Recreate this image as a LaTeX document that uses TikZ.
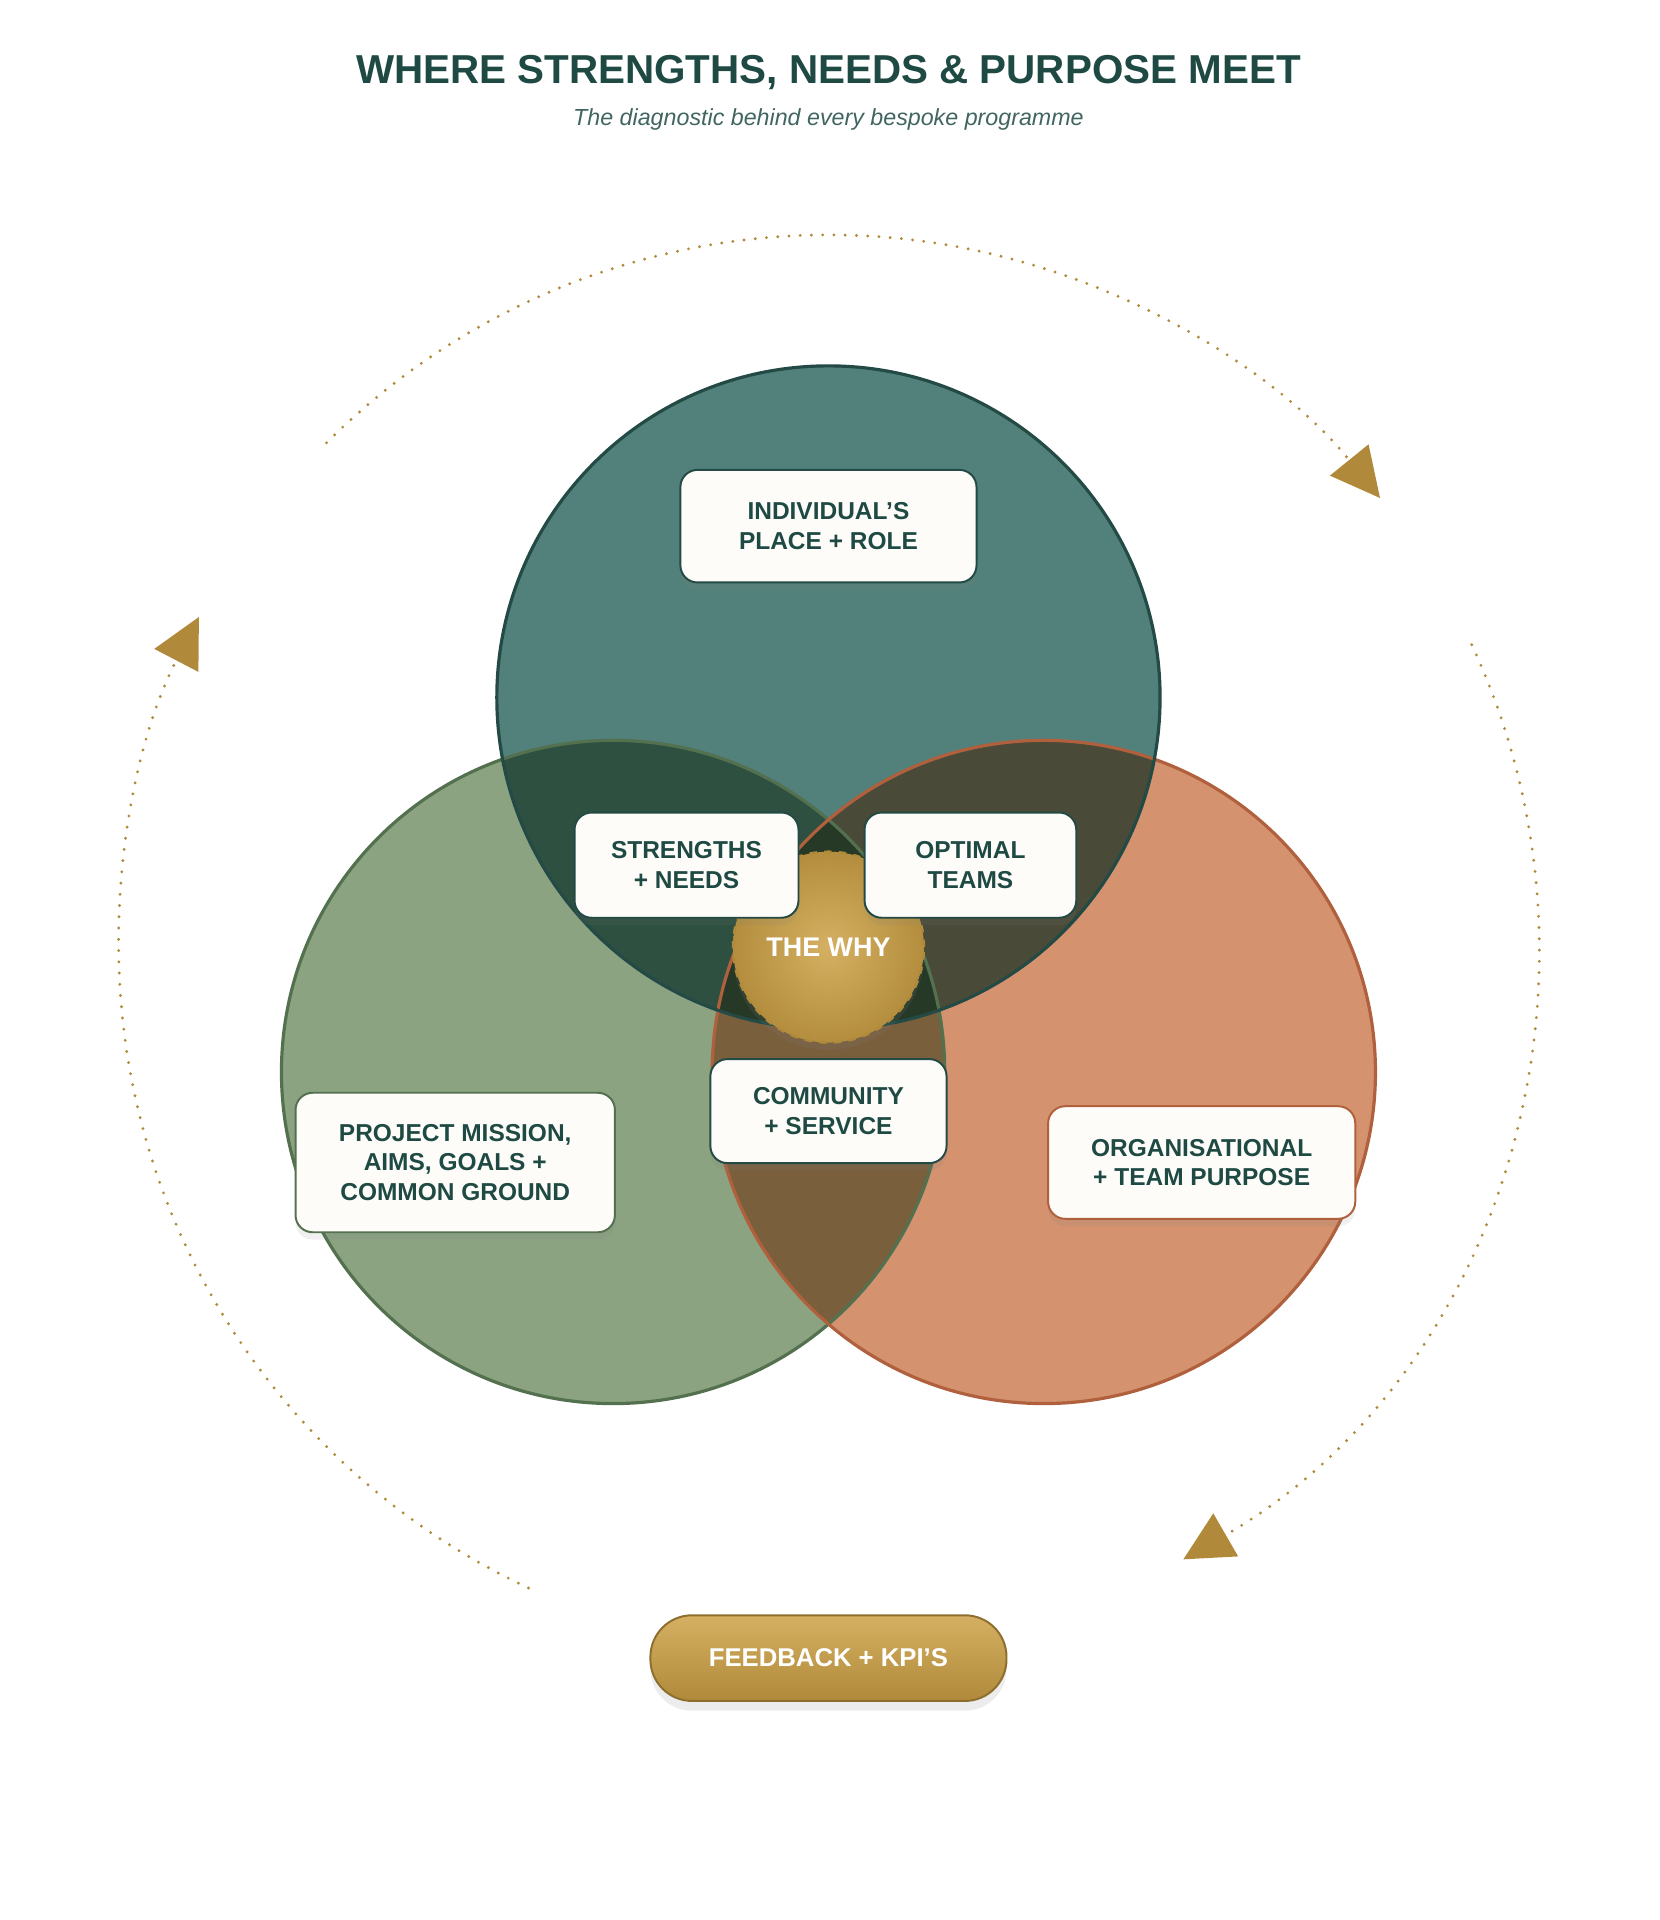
\documentclass[tikz,border=0pt]{standalone}
\usepackage{fontspec}
\setmainfont{Liberation Sans}
\usetikzlibrary{arrows.meta,shadows}
\definecolor{ink}{HTML}{1F4A44}
\definecolor{gold}{HTML}{B08A3A}
\definecolor{goldlt}{HTML}{D6B062}
\definecolor{topfill}{HTML}{52807A}
\definecolor{topline}{HTML}{234A45}
\definecolor{leftfill}{HTML}{8BA380}
\definecolor{leftline}{HTML}{53704F}
\definecolor{rightfill}{HTML}{D4926F}
\definecolor{rightline}{HTML}{B0603C}
\definecolor{paper}{HTML}{FDFCF8}
\definecolor{topleft}{HTML}{2D5040}
\definecolor{topright}{HTML}{4A4A38}
\definecolor{leftright}{HTML}{7A5F3C}
\definecolor{core}{HTML}{263826}
\tikzset{
  label box/.style={draw=topline,line width=0.8pt,fill=paper,rounded corners=7pt,
    align=center,text=ink,font=\bfseries\fontsize{10}{12}\selectfont,
    drop shadow={opacity=0.12,shadow xshift=0pt,shadow yshift=-3pt}},
  loop arc/.style={gold,line width=1.3pt,line cap=round,dash pattern=on 0pt off 4.6pt,
    -{Triangle[length=20pt,width=20pt,fill=gold]}}
}
\begin{document}
\begin{tikzpicture}[x=0.5pt,y=0.5pt]
\useasboundingbox (0,0) rectangle (1356,1569);
% title
\node[text=ink,font=\bfseries\fontsize{16.5}{18}\selectfont] (title) at (677,1510) {WHERE STRENGTHS, NEEDS \& PURPOSE MEET};
\node[text=ink!85,font=\itshape\fontsize{9.5}{11}\selectfont] (subtitle) at (677,1471) {The diagnostic behind every bespoke programme};
% feedback loop
\draw[loop arc] (677,797) ++(135:580) arc[start angle=135,end angle=39,radius=290pt];
\draw[loop arc] (677,797) ++(25:580) arc[start angle=25,end angle=-60,radius=290pt];
\draw[loop arc] (677,797) ++(245:580) arc[start angle=245,end angle=152.5,radius=290pt];
% circles
\fill[topfill] (677,999) circle (271);
\fill[leftfill] (501,693) circle (271);
\fill[rightfill] (853,693) circle (271);
\begin{scope}
\clip (501,693) circle (271);
\fill[leftright] (853,693) circle (271);
\end{scope}
\begin{scope}
\clip (677,999) circle (271);
\fill[topleft] (501,693) circle (271);
\fill[topright] (853,693) circle (271);
\clip (501,693) circle (271);
\fill[core] (853,693) circle (271);
\end{scope}
\draw[leftline,line width=1.3pt] (501,693) circle (271);
\draw[rightline,line width=1.3pt] (853,693) circle (271);
\draw[topline,line width=1.3pt] (677,999) circle (271);
% centre
\node[circle,minimum size=78pt,inner sep=0pt,draw=gold,dashed,line width=1pt,
  inner color=goldlt,outer color=gold!90!goldlt,text=white,font=\bfseries\fontsize{11}{13}\selectfont,
  drop shadow={opacity=0.15,shadow xshift=0pt,shadow yshift=-3pt}] (why) at (677,795) {THE WHY};
% labels
\node[label box,minimum width=121pt,minimum height=46pt] (individual) at (677,1139) {INDIVIDUAL’S\\PLACE + ROLE};
\node[label box,minimum width=91.5pt,minimum height=43pt] (strengths) at (561,862) {STRENGTHS\\+ NEEDS};
\node[label box,minimum width=86.5pt,minimum height=43pt] (optimal) at (793,862) {OPTIMAL\\TEAMS};
\node[label box,minimum width=96.5pt,minimum height=42.5pt] (community) at (677,661) {COMMUNITY\\+ SERVICE};
\node[label box,draw=leftline,minimum width=130.5pt,minimum height=57pt] (mission) at (372,619) {PROJECT MISSION,\\AIMS, GOALS +\\COMMON GROUND};
\node[label box,draw=rightline,minimum width=125.5pt,minimum height=46pt] (purpose) at (982,619) {ORGANISATIONAL\\+ TEAM PURPOSE};
\node[draw=gold!80!black,line width=0.8pt,rounded corners=17pt,minimum width=145.5pt,minimum height=35pt,
  top color=goldlt,bottom color=gold,text=white,font=\bfseries\fontsize{10.5}{12}\selectfont,
  drop shadow={opacity=0.15,shadow xshift=0pt,shadow yshift=-4pt}] (feedback) at (677,214) {FEEDBACK + KPI’S};
\end{tikzpicture}
\end{document}
